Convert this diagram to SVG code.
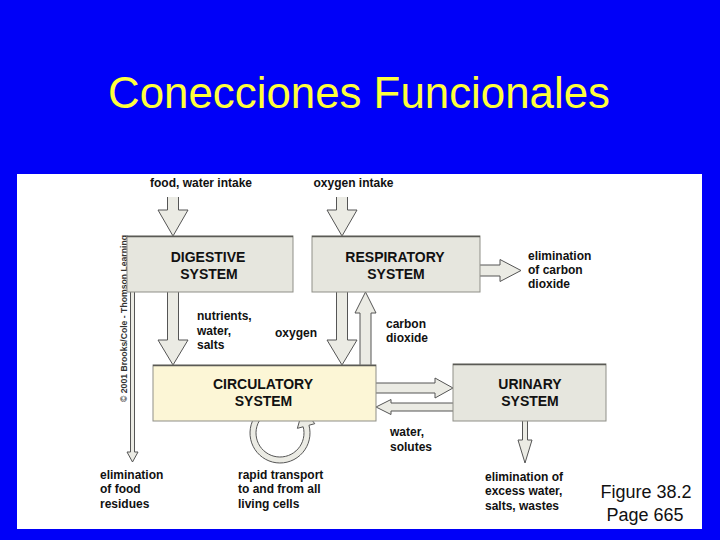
<svg xmlns="http://www.w3.org/2000/svg" width="720" height="540" viewBox="0 0 720 540">
<defs>
<style>
.lbl{font-family:"Liberation Sans",Arial,sans-serif;font-size:12px;font-weight:bold;fill:#111}
.box{font-family:"Liberation Sans",Arial,sans-serif;font-size:14px;font-weight:bold;fill:#111;text-anchor:middle}
.arr{fill:#ebebe4;stroke:#555;stroke-width:1;stroke-linejoin:miter}
.nd{stroke:#8f8f88;stroke-width:1}
.gray{fill:#e6e6de}
.cream{fill:#fcf6d6}
.topedge{stroke:#5a5a55;stroke-width:1.6}
</style>
</defs>
<rect width="720" height="540" fill="#0000f8"/>
<text x="359" y="108" font-family="'Liberation Sans',Arial,sans-serif" font-size="44" fill="#ffff3c" text-anchor="middle" textLength="502" lengthAdjust="spacingAndGlyphs">Conecciones Funcionales</text>
<rect x="17" y="174" width="685" height="355" fill="#ffffff"/>
<text transform="translate(127,318.5) rotate(-90)" font-family="'Liberation Sans',Arial,sans-serif" font-size="8.5" font-weight="bold" fill="#333" text-anchor="middle" textLength="167" lengthAdjust="spacingAndGlyphs">© 2001 Brooks/Cole - Thomson Learning</text>

<g id="connectors">
<!-- food intake -->
<path class="arr" d="M167.5,197 L167.5,210 L158,210 L173,236 L188,210 L178.5,210 L178.5,197"/>
<!-- oxygen intake -->
<path class="arr" d="M336.5,197 L336.5,210 L327,210 L342,236 L357,210 L347.5,210 L347.5,197"/>
<!-- digestive to circulatory -->
<path class="arr" d="M167.5,292 L167.5,340 L158,340 L173,365 L188,340 L178.5,340 L178.5,292"/>
<!-- respiratory to circulatory (oxygen) -->
<path class="arr" d="M336.5,292 L336.5,340 L327,340 L342,365 L357,340 L347.5,340 L347.5,292"/>
<!-- carbon dioxide up -->
<path class="arr" d="M360,365 L360,313 L355,313 L365.5,292 L376,313 L371,313 L371,365"/>
<!-- elimination of CO2 -->
<path class="arr" d="M480,265 L500,265 L500,259.5 L521,270.5 L500,281.5 L500,276 L480,276"/>
<!-- circulatory to urinary -->
<path class="arr" d="M376,383 L435,383 L435,378 L453,388 L435,398 L435,393 L376,393"/>
<!-- urinary to circulatory -->
<path class="arr" d="M453,403 L391,403 L391,399.5 L376,407 L391,414.5 L391,411 L453,411"/>
<!-- urinary elimination -->
<path class="arr" d="M522.5,421 L522.5,440 L518,440 L525,463 L532,440 L527.5,440 L527.5,421"/>
<!-- elimination of food residues -->
<path class="arr" d="M130.5,292 L130.5,452 L127,452 L132.5,462 L138,452 L134.5,452 L134.5,292"/>
<!-- circular rapid transport -->
<path class="arr" d="M254.02,418 A30 30 0 1 0 308.98,425.24 L314.77,423.68 L303,408.5 L297.39,428.34 L303.18,426.79 A24 24 0 1 1 259.22,421 Z"/>
</g>

<g id="digestive">
<rect class="nd gray" x="127" y="236" width="166" height="56"/>
<line class="topedge" x1="127" y1="236.5" x2="293" y2="236.5"/>
<text class="box" x="208" y="262">DIGESTIVE</text>
<text class="box" x="209" y="279">SYSTEM</text>
</g>
<g id="respiratory">
<rect class="nd gray" x="312" y="236" width="168" height="56"/>
<line class="topedge" x1="312" y1="236.5" x2="480" y2="236.5"/>
<text class="box" x="395" y="262">RESPIRATORY</text>
<text class="box" x="396" y="279">SYSTEM</text>
</g>
<g id="circulatory">
<rect class="nd cream" x="153" y="365" width="223" height="56"/>
<line class="topedge" x1="153" y1="365.5" x2="376" y2="365.5"/>
<text class="box" x="263" y="389">CIRCULATORY</text>
<text class="box" x="263.5" y="406">SYSTEM</text>
</g>
<g id="urinary">
<rect class="nd gray" x="453" y="364" width="153" height="57"/>
<line class="topedge" x1="453" y1="364.5" x2="606" y2="364.5"/>
<text class="box" x="530" y="389">URINARY</text>
<text class="box" x="530" y="406">SYSTEM</text>
</g>

<g id="labels">
<text class="lbl" x="201" y="187" text-anchor="middle">food, water intake</text>
<text class="lbl" x="353.5" y="187" text-anchor="middle">oxygen intake</text>
<text class="lbl" x="528" y="260">elimination</text>
<text class="lbl" x="528" y="274">of carbon</text>
<text class="lbl" x="528" y="288">dioxide</text>
<text class="lbl" x="197" y="320">nutrients,</text>
<text class="lbl" x="197" y="335">water,</text>
<text class="lbl" x="197" y="349">salts</text>
<text class="lbl" x="275" y="337">oxygen</text>
<text class="lbl" x="386" y="328">carbon</text>
<text class="lbl" x="386" y="342">dioxide</text>
<text class="lbl" x="390" y="436">water,</text>
<text class="lbl" x="390" y="451">solutes</text>
<text class="lbl" x="485" y="481">elimination of</text>
<text class="lbl" x="485" y="495">excess water,</text>
<text class="lbl" x="485" y="510">salts, wastes</text>
<text class="lbl" x="100" y="479">elimination</text>
<text class="lbl" x="100" y="493">of food</text>
<text class="lbl" x="100" y="508">residues</text>
<text class="lbl" x="238" y="479">rapid transport</text>
<text class="lbl" x="238" y="493">to and from all</text>
<text class="lbl" x="238" y="508">living cells</text>
<text x="646" y="498" font-family="'Liberation Sans',Arial,sans-serif" font-size="18" fill="#111" text-anchor="middle">Figure 38.2</text>
<text x="645" y="521" font-family="'Liberation Sans',Arial,sans-serif" font-size="18" fill="#111" text-anchor="middle">Page 665</text>
</g>
</svg>
